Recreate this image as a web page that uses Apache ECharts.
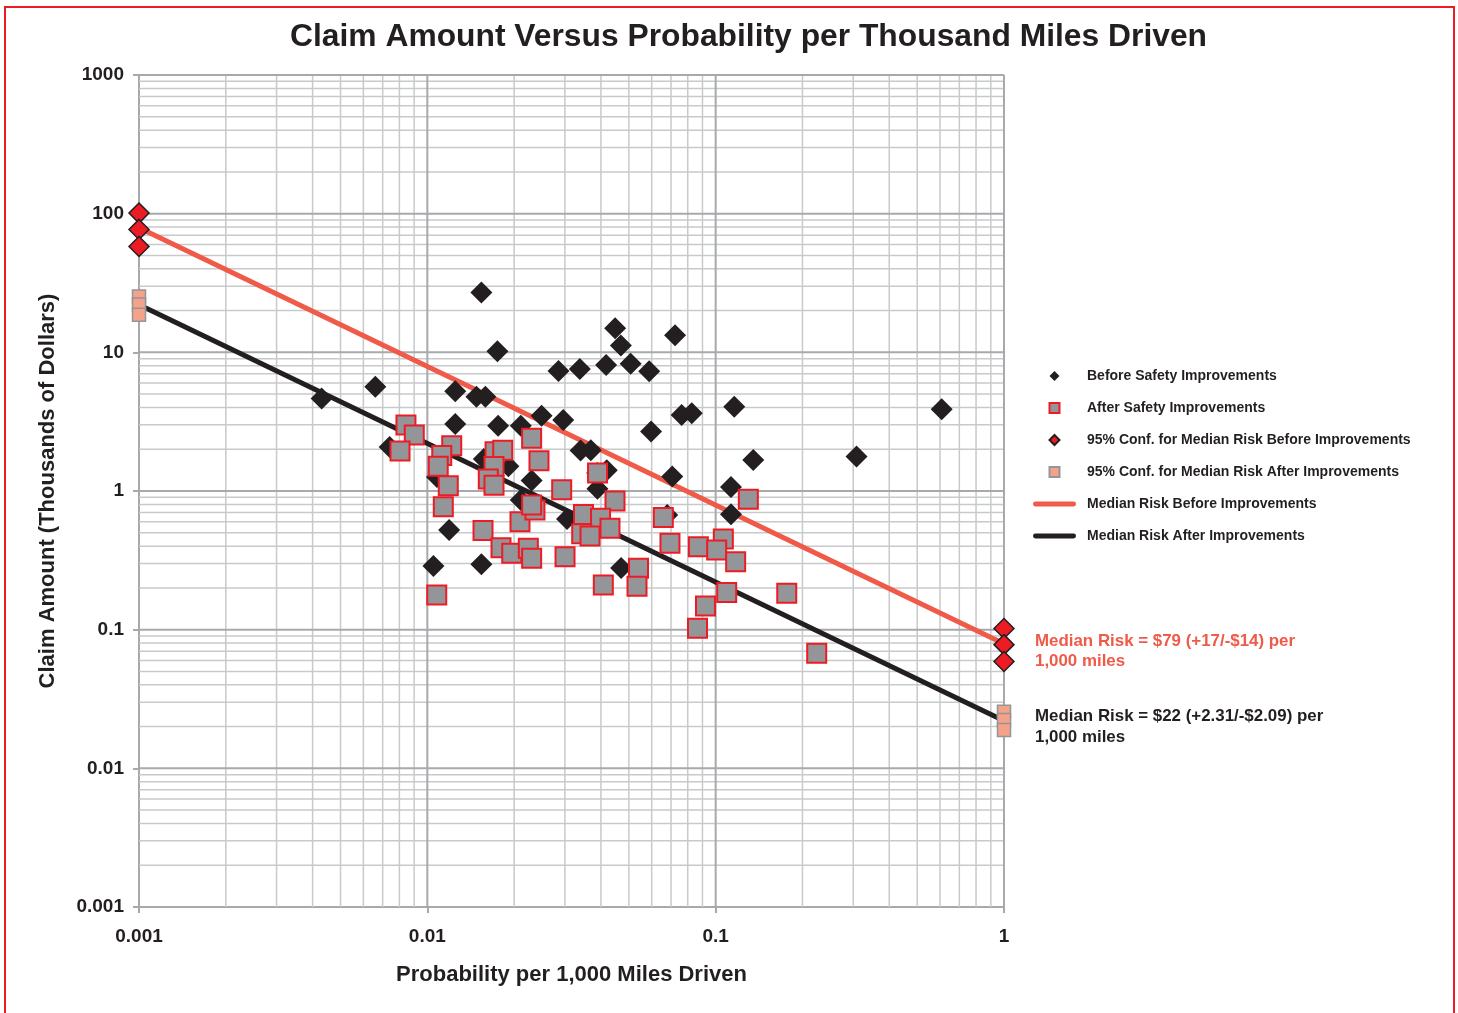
<!DOCTYPE html>
<html><head><meta charset="utf-8">
<script src="https://cdn.jsdelivr.net/npm/echarts@6/dist/echarts.min.js"></script>
<style>html,body{margin:0;padding:0;background:#fff}#c{width:1458px;height:1013px}</style>
</head><body><div id="c"></div>
<script>
const FONT = '"Liberation Sans", Arial, Helvetica, sans-serif';
const INK = '#231f20';
const xTickLabels = ['0.001', '0.01', '0.1', '1'];
const yTickLabels = ['0.001', '0.01', '0.1', '1', '10', '100', '1000'];
const xDecades = [0.001, 0.01, 0.1, 1];
const yDecades = [0.001, 0.01, 0.1, 1, 10, 100, 1000];
const minorMultipliers = [2, 3, 4, 5, 6, 7, 8, 9];

// [probability per 1,000 miles, claim amount (thousands of dollars)]
const beforePoints = [
  [0.0043, 4.65], [0.0066, 5.64], [0.0074, 2.08], [0.0125, 5.25], [0.0148, 4.78],
  [0.0159, 4.78], [0.0154, 27.0], [0.0175, 10.2], [0.0125, 3.04], [0.0176, 2.95],
  [0.0119, 0.524], [0.0105, 0.288], [0.0154, 0.296], [0.0249, 3.49], [0.0285, 7.32],
  [0.0338, 7.57], [0.0417, 8.09], [0.0448, 14.9], [0.0469, 11.2], [0.0507, 8.29],
  [0.0588, 7.29], [0.0723, 13.3], [0.0296, 3.25], [0.0340, 1.96], [0.0369, 1.97],
  [0.0597, 2.69], [0.0762, 3.53], [0.0826, 3.63], [0.116, 4.05], [0.0707, 1.27],
  [0.113, 1.07], [0.113, 0.681], [0.135, 1.67], [0.308, 1.77], [0.608, 3.88],
  [0.0470, 0.279], [0.0389, 1.04], [0.0419, 1.41], [0.0388, 1.35], [0.0157, 1.70],
  [0.0191, 1.51], [0.0211, 0.861], [0.0211, 2.96], [0.0108, 1.26], [0.0230, 1.19],
  [0.0305, 0.628], [0.0679, 0.672]
];
const afterPoints = [
  [0.00843, 2.99], [0.00901, 2.53], [0.00804, 1.94], [0.01215, 2.12], [0.01122, 1.80],
  [0.01091, 1.51], [0.01182, 1.09], [0.01136, 0.771], [0.01078, 0.178], [0.01717, 1.92],
  [0.01826, 1.97], [0.01703, 1.50], [0.01627, 1.22], [0.01703, 1.10], [0.0156, 0.519],
  [0.01801, 0.390], [0.01962, 0.356], [0.02096, 0.601], [0.0230, 2.40], [0.02439, 1.65],
  [0.03893, 1.35], [0.02924, 1.02], [0.04476, 0.847], [0.02362, 0.730], [0.0230, 0.793],
  [0.0348, 0.677], [0.03987, 0.636], [0.0430, 0.539], [0.03431, 0.492], [0.03666, 0.474],
  [0.0224, 0.387], [0.0230, 0.327], [0.03003, 0.336], [0.04077, 0.210], [0.0540, 0.277],
  [0.05336, 0.206], [0.06582, 0.644], [0.06942, 0.420], [0.0871, 0.397], [0.1063, 0.451],
  [0.1008, 0.376], [0.1173, 0.309], [0.1298, 0.873], [0.1092, 0.185], [0.0922, 0.148],
  [0.0865, 0.1025], [0.1764, 0.183], [0.2241, 0.0677]
];
const confBefore = [[0.001, 101], [0.001, 77], [0.001, 58], [1, 0.102], [1, 0.078], [1, 0.059]];
const confAfter = [[0.001, 25.3], [0.001, 22.1], [0.001, 18.7], [1, 0.0256], [1, 0.0223], [1, 0.0189]];
const medianBefore = [[0.001, 79], [1, 0.079]];
const medianAfter = [[0.001, 22], [1, 0.022]];

const seriesNames = [
  'Before Safety Improvements',
  'After Safety Improvements',
  '95% Conf. for Median Risk Before Improvements',
  '95% Conf. for Median Risk After Improvements',
  'Median Risk Before Improvements',
  'Median Risk After Improvements'
];
const noteBefore = 'Median Risk = $79 (+17/-$14) per\n1,000 miles';
const noteAfter = 'Median Risk = $22 (+2.31/-$2.09) per\n1,000 miles';

// grid lines: [x, y, kind]  kind 0 = minor vertical, 1 = minor horizontal, 2 = major vertical, 3 = major horizontal
const gridLines = [];
xDecades.slice(0, -1).forEach(d => minorMultipliers.forEach(m => gridLines.push([d * m, 1, 0])));
yDecades.slice(0, -1).forEach(d => minorMultipliers.forEach(m => gridLines.push([0.01, d * m, 1])));
xDecades.slice(1).forEach(d => gridLines.push([d, 1, 2]));
yDecades.slice(1).forEach(d => gridLines.push([0.01, d, 3]));
const minorStyle = { stroke: '#c8c9cb', lineWidth: 1.5 };
const majorStyle = { stroke: '#a7a9ac', lineWidth: 2 };

function renderGridLine(params, api) {
  const kind = api.value(2);
  let p1, p2;
  if (kind === 0 || kind === 2) {
    p1 = api.coord([api.value(0), yDecades[0]]);
    p2 = api.coord([api.value(0), yDecades[yDecades.length - 1]]);
  } else {
    p1 = api.coord([xDecades[0], api.value(1)]);
    p2 = api.coord([xDecades[xDecades.length - 1], api.value(1)]);
  }
  return {
    type: 'line', silent: true,
    shape: { x1: p1[0], y1: p1[1], x2: p2[0], y2: p2[1] },
    style: Object.assign({}, kind < 2 ? minorStyle : majorStyle)
  };
}

const chart = echarts.init(document.getElementById('c'), null, { renderer: 'canvas' });
const labelStyle = { fontFamily: FONT, fontWeight: 'bold', color: INK, fontSize: 19 };
const nameStyle = { fontFamily: FONT, fontWeight: 'bold', color: INK, fontSize: 22 };
const axisLineStyle = { color: '#a7a9ac', width: 2 };
const lineIcon = 'path://M2,0 L41,0 A2.5,2.5 0 0 1 41,5 L2,5 A2.5,2.5 0 0 1 2,0 Z';
const diamondIcon = 'path://M5,0 L10,5 L5,10 L0,5 Z';
const squareIcon = 'path://M0,0 L10,0 L10,10 L0,10 Z';

chart.setOption({
  backgroundColor: '#fff',
  animation: false,
  title: {
    text: 'Claim Amount Versus Probability per Thousand Miles Driven',
    left: 290, top: 21, padding: 0,
    textStyle: { fontFamily: FONT, fontWeight: 'bold', fontSize: 31.8, color: INK }
  },
  grid: { left: 139, right: 454, top: 75, bottom: 106 },
  xAxis: {
    type: 'log', logBase: 10, min: 0.001, max: 1, splitNumber: 3,
    axisLine: { show: true, lineStyle: axisLineStyle },
    axisTick: { show: true, length: 6, lineStyle: axisLineStyle },
    splitLine: { show: false },
    axisLabel: Object.assign({ margin: 20, formatter: (v, i) => xTickLabels[i] !== undefined ? xTickLabels[i] : String(v) }, labelStyle),
    name: 'Probability per 1,000 Miles Driven', nameLocation: 'middle', nameGap: 57,
    nameTextStyle: nameStyle
  },
  yAxis: {
    type: 'log', logBase: 10, min: 0.001, max: 1000, splitNumber: 6,
    axisLine: { show: true, lineStyle: axisLineStyle },
    axisTick: { show: true, length: 6, lineStyle: axisLineStyle },
    splitLine: { show: false },
    axisLabel: Object.assign({ margin: 15, formatter: (v, i) => yTickLabels[i] !== undefined ? yTickLabels[i] : String(v) }, labelStyle),
    name: 'Claim Amount (Thousands of Dollars)', nameLocation: 'middle', nameGap: 80,
    nameTextStyle: nameStyle
  },
  legend: {
    orient: 'vertical', left: 1033, top: 369, padding: 0,
    itemWidth: 43, itemHeight: 10, itemGap: 18,
    symbolKeepAspect: true,
    data: [
      { name: seriesNames[0], icon: diamondIcon },
      { name: seriesNames[1], icon: squareIcon },
      { name: seriesNames[2], icon: diamondIcon },
      { name: seriesNames[3], icon: squareIcon },
      { name: seriesNames[4], icon: lineIcon },
      { name: seriesNames[5], icon: lineIcon }
    ],
    textStyle: { fontFamily: FONT, fontWeight: 'bold', fontSize: 14, color: INK, padding: [0, 0, 0, 6] }
  },
  graphic: [
    { type: 'rect', shape: { x: 5, y: 7, width: 1449, height: 1030 }, style: { fill: 'none', stroke: '#ed1c24', lineWidth: 2 }, silent: true },
    { type: 'text', left: 1035, top: 631, style: { text: noteBefore, fill: '#f05a48', font: 'bold 16.9px ' + FONT, lineHeight: 20 } },
    { type: 'text', left: 1035, top: 706, style: { text: noteAfter, fill: INK, font: 'bold 16.9px ' + FONT, lineHeight: 21 } }
  ],
  series: [
    {
      type: 'custom', name: '_grid', data: gridLines, z: 1, silent: true, clip: false,
      dimensions: ['x', 'y', 'kind'], encode: { x: 0, y: 1 },
      renderItem: renderGridLine
    },
    {
      type: 'line', name: seriesNames[4], data: medianBefore, z: 2, symbol: 'none', clip: false,
      lineStyle: { color: '#f05a48', width: 5 }, itemStyle: { color: '#f05a48' }
    },
    {
      type: 'line', name: seriesNames[5], data: medianAfter, z: 2, symbol: 'none', clip: false,
      lineStyle: { color: INK, width: 5 }, itemStyle: { color: INK }
    },
    {
      type: 'scatter', name: seriesNames[0], data: beforePoints, z: 3, symbol: 'diamond', symbolSize: 22, clip: false,
      itemStyle: { color: INK, opacity: 1 }
    },
    {
      type: 'scatter', name: seriesNames[1], data: afterPoints, z: 4, symbol: 'rect', symbolSize: 19, clip: false,
      itemStyle: { color: '#939598', borderColor: '#ed1c24', borderWidth: 2, opacity: 1 }
    },
    {
      type: 'scatter', name: seriesNames[2], data: confBefore, z: 5, symbol: 'diamond', symbolSize: 20, clip: false,
      itemStyle: { color: '#ed1c24', borderColor: INK, borderWidth: 1.5, opacity: 1 }
    },
    {
      type: 'scatter', name: seriesNames[3], data: confAfter, z: 5, symbol: 'rect', symbolSize: 13, clip: false,
      itemStyle: { color: '#f4a38a', borderColor: '#939598', borderWidth: 1.5, opacity: 1 }
    }
  ]
});
</script>
</body></html>
